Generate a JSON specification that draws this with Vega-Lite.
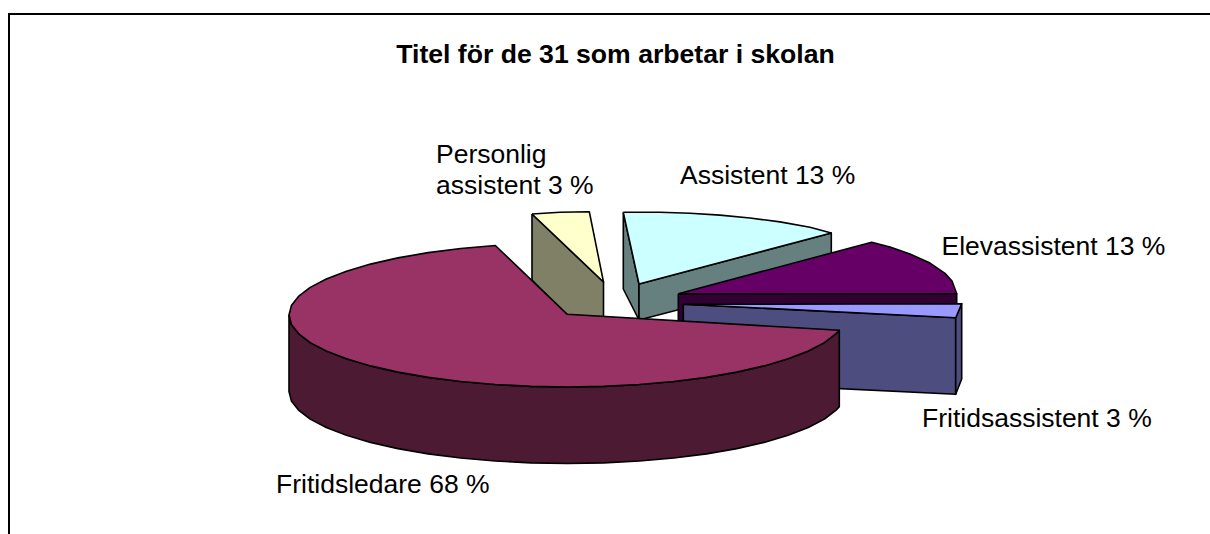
{"$schema":"https://vega.github.io/schema/vega-lite/v6.json","width":1210,"height":534,"padding":0,"autosize":{"type":"none"},"background":"white","view":{"stroke":null},
"title":{"text":"Titel för de 31 som arbetar i skolan","font":"Liberation Sans","fontSize":26.6,"fontWeight":"bold","color":"black","anchor":"middle","dx":10.5,"baseline":"alphabetic","offset":-90},
"layer":[
{"data":{"values":[{"s":"frame","i":0,"x":9,"y":534},{"s":"frame","i":1,"x":9,"y":14},{"s":"frame","i":2,"x":1210,"y":14}]},
"mark":{"type":"line","stroke":"black","strokeWidth":2,"fill":null},
"encoding":{"x":{"field":"x","type":"quantitative","scale":{"domain":[0,1210],"range":[0,1210]},"axis":null},"y":{"field":"y","type":"quantitative","scale":{"domain":[0,534],"range":[0,534]},"axis":null},"order":{"field":"i"}}},
{"data":{"values":[
{"s":"Assistent sida","i":0,"x":623.3,"y":212.3},{"s":"Assistent sida","i":1,"x":639,"y":284},{"s":"Assistent sida","i":2,"x":639,"y":320},{"s":"Assistent sida","i":3,"x":623.3,"y":289},{"s":"Assistent sida","i":4,"x":623.3,"y":212.3},
{"s":"Assistent front","i":0,"x":639,"y":284},{"s":"Assistent front","i":1,"x":831.3,"y":233},{"s":"Assistent front","i":2,"x":831.3,"y":270},{"s":"Assistent front","i":3,"x":639,"y":320},{"s":"Assistent front","i":4,"x":639,"y":284},
{"s":"Assistent topp","i":0,"x":623.3,"y":212.3},{"s":"Assistent topp","i":1,"x":660,"y":212.2},{"s":"Assistent topp","i":2,"x":690,"y":213.2},{"s":"Assistent topp","i":3,"x":720,"y":215.1},{"s":"Assistent topp","i":4,"x":750,"y":218},{"s":"Assistent topp","i":5,"x":780,"y":221.9},{"s":"Assistent topp","i":6,"x":810,"y":227.2},{"s":"Assistent topp","i":7,"x":831.3,"y":233},{"s":"Assistent topp","i":8,"x":639,"y":284},{"s":"Assistent topp","i":9,"x":623.3,"y":212.3},
{"s":"Personlig sida","i":0,"x":532,"y":214},{"s":"Personlig sida","i":1,"x":603.5,"y":282},{"s":"Personlig sida","i":2,"x":603.5,"y":318},{"s":"Personlig sida","i":3,"x":567.3,"y":316},{"s":"Personlig sida","i":4,"x":532,"y":280},{"s":"Personlig sida","i":5,"x":532,"y":214},
{"s":"Personlig topp","i":0,"x":532,"y":214},{"s":"Personlig topp","i":1,"x":560,"y":212.3},{"s":"Personlig topp","i":2,"x":589.3,"y":211.7},{"s":"Personlig topp","i":3,"x":603.5,"y":282},{"s":"Personlig topp","i":4,"x":532,"y":214},
{"s":"Elev front","i":0,"x":678.3,"y":293.7},{"s":"Elev front","i":1,"x":956.7,"y":293.7},{"s":"Elev front","i":2,"x":956.7,"y":330},{"s":"Elev front","i":3,"x":678.3,"y":330},{"s":"Elev front","i":4,"x":678.3,"y":293.7},
{"s":"Elev topp","i":0,"x":678.3,"y":293.7},{"s":"Elev topp","i":1,"x":871.7,"y":242.3},{"s":"Elev topp","i":2,"x":890,"y":247},{"s":"Elev topp","i":3,"x":910,"y":254},{"s":"Elev topp","i":4,"x":930,"y":263.1},{"s":"Elev topp","i":5,"x":945,"y":273.4},{"s":"Elev topp","i":6,"x":952,"y":281},{"s":"Elev topp","i":7,"x":956.7,"y":293.7},{"s":"Elev topp","i":8,"x":678.3,"y":293.7},
{"s":"Fritids front","i":0,"x":683.3,"y":304.3},{"s":"Fritids front","i":1,"x":955.7,"y":317.7},{"s":"Fritids front","i":2,"x":955.7,"y":394.3},{"s":"Fritids front","i":3,"x":683.3,"y":381},{"s":"Fritids front","i":4,"x":683.3,"y":304.3},
{"s":"Fritids sida","i":0,"x":955.7,"y":317.7},{"s":"Fritids sida","i":1,"x":961.7,"y":303.7},{"s":"Fritids sida","i":2,"x":961.7,"y":379},{"s":"Fritids sida","i":3,"x":955.7,"y":394.3},{"s":"Fritids sida","i":4,"x":955.7,"y":317.7},
{"s":"Fritids topp","i":0,"x":683.3,"y":304.3},{"s":"Fritids topp","i":1,"x":961.7,"y":303.7},{"s":"Fritids topp","i":2,"x":955.7,"y":317.7},{"s":"Fritids topp","i":3,"x":683.3,"y":304.3},
{"s":"Ledare sida","i":0,"x":289,"y":315},{"s":"Ledare sida","i":1,"x":291.4,"y":324.4},{"s":"Ledare sida","i":2,"x":298.5,"y":333.6},{"s":"Ledare sida","i":3,"x":310.2,"y":342.6},{"s":"Ledare sida","i":4,"x":326.3,"y":351},{"s":"Ledare sida","i":5,"x":346.5,"y":358.8},{"s":"Ledare sida","i":6,"x":370.5,"y":365.9},{"s":"Ledare sida","i":7,"x":397.9,"y":372.1},{"s":"Ledare sida","i":8,"x":428.2,"y":377.4},{"s":"Ledare sida","i":9,"x":460.8,"y":381.5},{"s":"Ledare sida","i":10,"x":495.3,"y":384.5},{"s":"Ledare sida","i":11,"x":531,"y":386.4},{"s":"Ledare sida","i":12,"x":567.3,"y":387},{"s":"Ledare sida","i":13,"x":603.6,"y":386.4},{"s":"Ledare sida","i":14,"x":639.3,"y":384.5},{"s":"Ledare sida","i":15,"x":673.8,"y":381.5},{"s":"Ledare sida","i":16,"x":706.5,"y":377.4},{"s":"Ledare sida","i":17,"x":736.7,"y":372.1},{"s":"Ledare sida","i":18,"x":764.1,"y":365.9},{"s":"Ledare sida","i":19,"x":788.1,"y":358.8},{"s":"Ledare sida","i":20,"x":808.3,"y":351},{"s":"Ledare sida","i":21,"x":824.4,"y":342.6},{"s":"Ledare sida","i":22,"x":836.1,"y":333.6},{"s":"Ledare sida","i":23,"x":839.3,"y":330.3},
{"s":"Ledare sida","i":24,"x":839.3,"y":406.8},{"s":"Ledare sida","i":25,"x":836.1,"y":410.1},{"s":"Ledare sida","i":26,"x":824.4,"y":419.1},{"s":"Ledare sida","i":27,"x":808.3,"y":427.5},{"s":"Ledare sida","i":28,"x":788.1,"y":435.3},{"s":"Ledare sida","i":29,"x":764.1,"y":442.4},{"s":"Ledare sida","i":30,"x":736.7,"y":448.6},{"s":"Ledare sida","i":31,"x":706.5,"y":453.9},{"s":"Ledare sida","i":32,"x":673.8,"y":458},{"s":"Ledare sida","i":33,"x":639.3,"y":461},{"s":"Ledare sida","i":34,"x":603.6,"y":462.9},{"s":"Ledare sida","i":35,"x":567.3,"y":463.5},{"s":"Ledare sida","i":36,"x":531,"y":462.9},{"s":"Ledare sida","i":37,"x":495.3,"y":461},{"s":"Ledare sida","i":38,"x":460.8,"y":458},{"s":"Ledare sida","i":39,"x":428.2,"y":453.9},{"s":"Ledare sida","i":40,"x":397.9,"y":448.6},{"s":"Ledare sida","i":41,"x":370.5,"y":442.4},{"s":"Ledare sida","i":42,"x":346.5,"y":435.3},{"s":"Ledare sida","i":43,"x":326.3,"y":427.5},{"s":"Ledare sida","i":44,"x":310.2,"y":419.1},{"s":"Ledare sida","i":45,"x":298.5,"y":410.1},{"s":"Ledare sida","i":46,"x":291.4,"y":400.9},{"s":"Ledare sida","i":47,"x":289,"y":391.5},{"s":"Ledare sida","i":48,"x":289,"y":315},
{"s":"Ledare topp","i":0,"x":567.3,"y":314.3},{"s":"Ledare topp","i":1,"x":495.3,"y":245.5},{"s":"Ledare topp","i":2,"x":460.8,"y":248.5},{"s":"Ledare topp","i":3,"x":428.2,"y":252.6},{"s":"Ledare topp","i":4,"x":397.9,"y":257.9},{"s":"Ledare topp","i":5,"x":370.5,"y":264.1},{"s":"Ledare topp","i":6,"x":346.5,"y":271.2},{"s":"Ledare topp","i":7,"x":326.3,"y":279},{"s":"Ledare topp","i":8,"x":310.2,"y":287.4},{"s":"Ledare topp","i":9,"x":298.5,"y":296.4},{"s":"Ledare topp","i":10,"x":291.4,"y":305.6},{"s":"Ledare topp","i":11,"x":289,"y":315},{"s":"Ledare topp","i":12,"x":291.4,"y":324.4},{"s":"Ledare topp","i":13,"x":298.5,"y":333.6},{"s":"Ledare topp","i":14,"x":310.2,"y":342.6},{"s":"Ledare topp","i":15,"x":326.3,"y":351},{"s":"Ledare topp","i":16,"x":346.5,"y":358.8},{"s":"Ledare topp","i":17,"x":370.5,"y":365.9},{"s":"Ledare topp","i":18,"x":397.9,"y":372.1},{"s":"Ledare topp","i":19,"x":428.2,"y":377.4},{"s":"Ledare topp","i":20,"x":460.8,"y":381.5},{"s":"Ledare topp","i":21,"x":495.3,"y":384.5},{"s":"Ledare topp","i":22,"x":531,"y":386.4},{"s":"Ledare topp","i":23,"x":567.3,"y":387},{"s":"Ledare topp","i":24,"x":603.6,"y":386.4},{"s":"Ledare topp","i":25,"x":639.3,"y":384.5},{"s":"Ledare topp","i":26,"x":673.8,"y":381.5},{"s":"Ledare topp","i":27,"x":706.5,"y":377.4},{"s":"Ledare topp","i":28,"x":736.7,"y":372.1},{"s":"Ledare topp","i":29,"x":764.1,"y":365.9},{"s":"Ledare topp","i":30,"x":788.1,"y":358.8},{"s":"Ledare topp","i":31,"x":808.3,"y":351},{"s":"Ledare topp","i":32,"x":824.4,"y":342.6},{"s":"Ledare topp","i":33,"x":836.1,"y":333.6},{"s":"Ledare topp","i":34,"x":839.3,"y":330.3},{"s":"Ledare topp","i":35,"x":567.3,"y":314.3}
]},
"mark":{"type":"line","stroke":"black","strokeWidth":1.6,"strokeJoin":"round","interpolate":"linear"},
"encoding":{"x":{"field":"x","type":"quantitative","scale":{"domain":[0,1210],"range":[0,1210]},"axis":null},"y":{"field":"y","type":"quantitative","scale":{"domain":[0,534],"range":[0,534]},"axis":null},"order":{"field":"i"},
"detail":{"field":"s"},
"fill":{"field":"s","type":"nominal","legend":null,"scale":{"domain":["Assistent sida","Assistent front","Assistent topp","Personlig sida","Personlig topp","Elev front","Elev topp","Fritids front","Fritids sida","Fritids topp","Ledare sida","Ledare topp"],"range":["#668080","#668080","#CCFFFF","#808066","#FFFFCC","#330033","#660066","#4D4D80","#4D4D80","#9999FF","#4D1A33","#993366"]}}}},
{"data":{"values":[{"t":"Personlig","x":436,"y":162.5},{"t":"assistent 3 %","x":436,"y":193.5},{"t":"Assistent 13 %","x":680,"y":184},{"t":"Elevassistent 13 %","x":941.5,"y":255},{"t":"Fritidsassistent 3 %","x":922,"y":426.5},{"t":"Fritidsledare 68 %","x":276,"y":493}]},
"mark":{"type":"text","font":"Liberation Sans","fontSize":26.5,"align":"left","baseline":"alphabetic","color":"black"},
"encoding":{"x":{"field":"x","type":"quantitative","scale":{"domain":[0,1210],"range":[0,1210]},"axis":null},"y":{"field":"y","type":"quantitative","scale":{"domain":[0,534],"range":[0,534]},"axis":null},"text":{"field":"t"}}}
]}
